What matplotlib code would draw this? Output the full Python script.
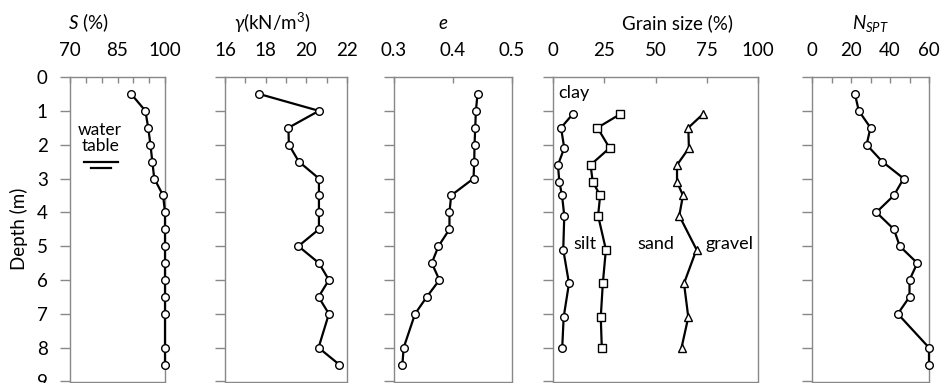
import matplotlib

matplotlib.use("Agg")
import matplotlib.pyplot as plt
from matplotlib.ticker import MultipleLocator

plt.rcParams["font.family"] = ["Lato", "DejaVu Sans"]
plt.rcParams["mathtext.fontset"] = "custom"
plt.rcParams["mathtext.it"] = "Lato:italic"
plt.rcParams["mathtext.rm"] = "Lato"

# profile depths (m)
depth = [0.5, 1, 1.5, 2, 2.5, 3, 3.5, 4, 4.5, 5, 5.5, 6, 6.5, 7, 8, 8.5]
saturation = [89.3, 93.8, 94.7, 95.4, 96.0, 96.6, 99.4, 100, 100, 100, 100, 100, 100, 100, 100, 100]
unit_weight = [17.67, 20.62, 19.12, 19.14, 19.63, 20.62, 20.62, 20.62, 20.62, 19.61,
               20.62, 21.11, 20.60, 21.11, 20.60, 21.62]
void_ratio = [0.4416, 0.4388, 0.4377, 0.4365, 0.4360, 0.4348, 0.3969, 0.3940, 0.3940, 0.3754,
              0.3640, 0.3770, 0.3555, 0.3357, 0.3164, 0.3142]
n_spt = [22, 24, 30, 28, 36, 47, 42, 33, 42, 45, 54, 50, 50, 44, 60, 60]

# grain size samples (cumulative %)
grain_depth = [1.1, 1.5, 2.1, 2.6, 3.1, 3.5, 4.1, 5.1, 6.1, 7.1, 8.0]
clay = [9.6, 3.9, 5.5, 2.4, 3.1, 4.4, 5.5, 5.0, 7.8, 5.2, 4.5]
clay_silt = [32.7, 21.7, 27.6, 18.3, 19.4, 23.0, 22.0, 25.8, 24.3, 23.3, 23.8]
clay_silt_sand = [73.1, 66.0, 66.3, 60.5, 60.5, 63.4, 61.6, 70.0, 63.9, 66.0, 62.7]

W, H = 942, 383
fig = plt.figure(figsize=(W / 100, H / 100), dpi=100)

top = 1 - 77 / H
bottom = 1 - 381.5 / H
panels = [(70, 165), (225, 347), (394, 512), (553, 758), (812, 929)]
axes = [fig.add_axes([l / W, bottom, (r - l) / W, top - bottom]) for l, r in panels]

spine_color = "#888888"
fs = 13.5
line_kw = dict(color="black", lw=1.6, markerfacecolor="white", markeredgecolor="black",
               markeredgewidth=1.0, markersize=5.5, clip_on=False, zorder=3)

for i, ax in enumerate(axes):
    ax.set_ylim(9, 0)
    ax.yaxis.set_major_locator(MultipleLocator(1))
    ax.xaxis.set_ticks_position("top")
    ax.xaxis.set_label_position("top")
    for s in ax.spines.values():
        s.set_color(spine_color)
        s.set_linewidth(1.0)
    ax.tick_params(axis="x", which="both", direction="in", length=4, width=1,
                   color=spine_color, labelsize=fs, pad=13)
    ax.tick_params(axis="y", direction="out", length=7, width=1, color=spine_color,
                   labelsize=fs, pad=9, labelleft=(i == 0))

ax = axes[0]
ax.plot(saturation, depth, marker="o", **line_kw)
ax.set_xlim(70, 100)
ax.set_xticks([70, 85, 100])
ax.xaxis.set_minor_locator(MultipleLocator(5))
ax.set_ylabel("Depth (m)", fontsize=fs, labelpad=6)
ax.set_title("$S$ (%)", fontsize=fs, x=0.19, pad=9)
ax.text(79.5, 1.8, "water\ntable", ha="center", va="center", fontsize=12.5, linespacing=1.0)
ax.plot([74.4, 85.1], [2.5, 2.5], color="black", lw=1.6)
ax.plot([76.6, 82.9], [2.69, 2.69], color="black", lw=1.6)

ax = axes[1]
ax.plot(unit_weight, depth, marker="o", **line_kw)
ax.set_xlim(16, 22)
ax.set_xticks([16, 18, 20, 22])
ax.xaxis.set_minor_locator(MultipleLocator(1))
ax.set_title("$\\gamma$(kN/m$^3$)", fontsize=fs, x=0.385, pad=9)

ax = axes[2]
ax.plot(void_ratio, depth, marker="o", **line_kw)
ax.set_xlim(0.3, 0.5)
ax.set_xticks([0.3, 0.4, 0.5])
ax.set_title("$e$", fontsize=fs, x=0.415, pad=9)

ax = axes[3]
ax.plot(clay, grain_depth, marker="o", **line_kw)
ax.plot(clay_silt, grain_depth, marker="s", **line_kw)
ax.plot(clay_silt_sand, grain_depth, marker="^", **line_kw)
ax.set_xlim(0, 100)
ax.set_xticks([0, 25, 50, 75, 100])
ax.set_title("Grain size (%)", fontsize=fs, x=0.605, pad=9)
for label, x, y in [("clay", 2.4, 0.48), ("silt", 10, 4.95), ("sand", 41, 4.95), ("gravel", 74.6, 4.95)]:
    ax.text(x, y, label, ha="left", va="center", fontsize=13)

ax = axes[4]
ax.plot(n_spt, depth, marker="o", **line_kw)
ax.set_xlim(0, 60)
ax.set_xticks([0, 20, 40, 60])
ax.xaxis.set_minor_locator(MultipleLocator(10))
ax.set_title("$N_{SPT}$", fontsize=fs, x=0.5, pad=9)

fig.savefig("out.png", dpi=100)
